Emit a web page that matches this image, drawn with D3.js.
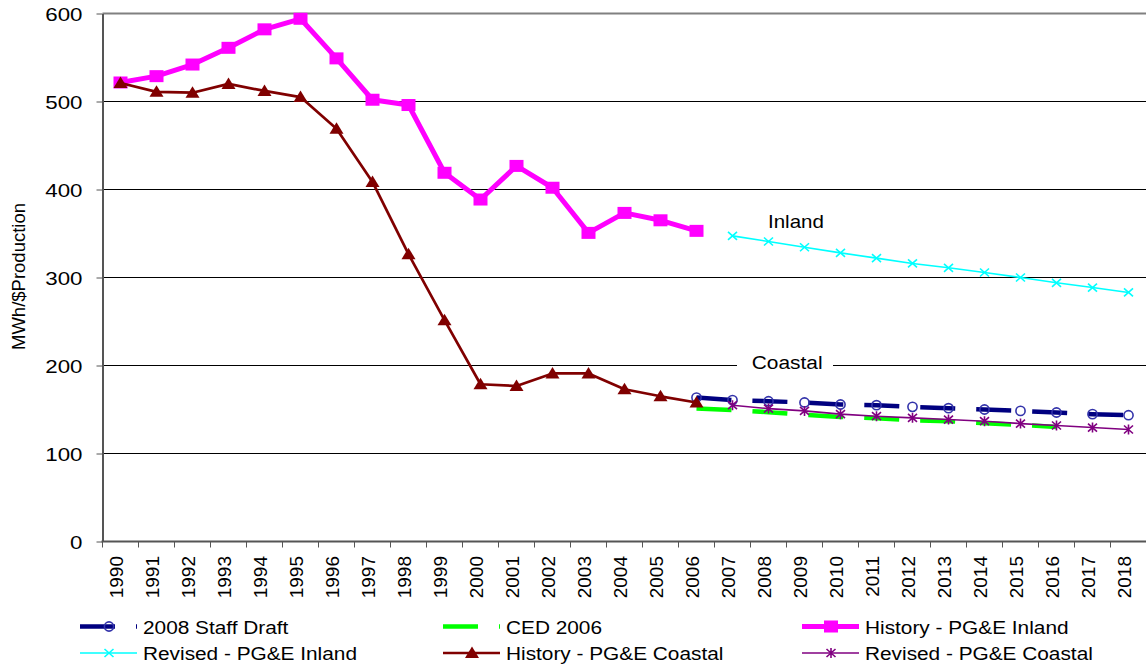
<!DOCTYPE html>
<html><head><meta charset="utf-8">
<script src="https://cdn.jsdelivr.net/npm/d3@7"></script>
<style>
body{margin:0;background:#fff}
svg{display:block}
text{font-family:"Liberation Sans",Arial,sans-serif;fill:#000}
</style>
</head><body>
<svg id="chart" width="1146" height="666"></svg>
<script>
// ---------- data ----------
const years = ["1990","1991","1992","1993","1994","1995","1996","1997","1998","1999","2000","2001","2002","2003","2004","2005","2006","2007","2008","2009","2010","2011","2012","2013","2014","2015","2016","2017","2018"];
const historyYears = ["1990","1991","1992","1993","1994","1995","1996","1997","1998","1999","2000","2001","2002","2003","2004","2005","2006"];
const staffYears = ["2006","2007","2008","2009","2010","2011","2012","2013","2014","2015","2016","2017","2018"];
const cedYears = ["2006","2007","2008","2009","2010","2011","2012","2013","2014","2015","2016"];
const revisedYears = ["2007","2008","2009","2010","2011","2012","2013","2014","2015","2016","2017","2018"];

const historyInland = [521.6,528.8,542,561,582,594,549,502,496,419,388.6,426.8,402,350.7,373.4,365,353];
const historyCoastal = [521,511,510,520,512,505,469,408.6,326.5,251.5,178.7,176.7,191,191,173,165,158];
const staffDraft = [163.6,160.6,159.4,158,155.7,154.9,153,151.5,150,148.4,146.6,144.7,143.5];
const ced2006 = [151,149.4,147,144,141.6,140,137.8,136.7,134.4,132.5,130.2];
const revisedInland = [347.3,340.9,334.4,328,322,316,311,305.7,300,294,288.6,283];
const revisedCoastal = [154.9,151,148.4,144.7,142.4,140.5,138.6,136.7,134,131.8,129.5,127.3];

const yTicks = [0,100,200,300,400,500,600];
const yTitle = "MWh/$Production";
const seriesNames = ["2008 Staff Draft","CED 2006","History - PG&E Inland","Revised - PG&E Inland","History - PG&E Coastal","Revised - PG&E Coastal"];

// ---------- setup ----------
const svg = d3.select("#chart");
const pLeft = 102.5, pRight = 1146.5, pTop = 13.5, pBottom = 541.5;
const x = d3.scaleBand().domain(years).range([pLeft, pRight]);
const cx = d => x(d) + x.bandwidth() / 2;
const y = d3.scaleLinear().domain([0, 600]).range([pBottom, pTop]);

function stretchedText(parent, px, py, str, size, sx, anchor, rot) {
  const g = parent.append("g").attr("transform", `translate(${px},${py}) scale(${sx},1)` + (rot ? ` rotate(${rot})` : ""));
  return g.append("text").attr("text-anchor", anchor || "start").style("font-size", size + "px").text(str);
}

// gridlines
svg.append("g").selectAll("line").data(yTicks.filter(t => t > 0 && t < 600)).join("line")
  .attr("x1", pLeft).attr("x2", 1146).attr("y1", d => y(d)).attr("y2", d => y(d))
  .attr("stroke", "#000").attr("stroke-width", 1);

// plot border (top)
svg.append("line").attr("x1", pLeft).attr("x2", 1146).attr("y1", y(600)).attr("y2", y(600))
  .attr("stroke", "#808080").attr("stroke-width", 2);

// Coastal label background
svg.append("rect").attr("x", 737).attr("y", y(200) - 9).attr("width", 96).attr("height", 18).attr("fill", "#fff");

// y axis
const yAxis = svg.append("g").attr("transform", `translate(${pLeft},0)`)
  .call(d3.axisLeft(y).tickValues(yTicks).tickSize(6).tickSizeOuter(0));
yAxis.select(".domain").attr("stroke", "#555").attr("stroke-width", 2);
yAxis.selectAll(".tick line").attr("stroke", "#555");
yAxis.selectAll(".tick text").attr("x", -20 / 1.2).attr("dy", "0.36em")
  .attr("transform", "scale(1.2,1)").style("font-size", "18.6px")
  .style("font-family", '"Liberation Sans",Arial,sans-serif').attr("fill", "#000");

// x axis
const xAxis = svg.append("g").attr("transform", `translate(0,${pBottom})`)
  .call(d3.axisBottom(x).tickSize(0));
xAxis.select(".domain").remove();
xAxis.selectAll(".tick text")
  .attr("transform", "scale(0.92,1) rotate(-90)")
  .attr("x", -14.5).attr("y", 0).attr("dy", "0.17em")
  .attr("text-anchor", "end").style("font-size", "19px")
  .style("font-family", '"Liberation Sans",Arial,sans-serif').attr("fill", "#000");
svg.append("line").attr("x1", pLeft - 1).attr("x2", 1146).attr("y1", pBottom).attr("y2", pBottom)
  .attr("stroke", "#555").attr("stroke-width", 2);
svg.append("g").selectAll("line").data(years).join("line")
  .attr("x1", d => x(d)).attr("x2", d => x(d)).attr("y1", pBottom).attr("y2", pBottom + 6)
  .attr("stroke", "#555").attr("stroke-width", 1);

// y title
stretchedText(svg, 25, 276.5, yTitle, 18.5, 1.0, "middle", -90);

// ---------- series ----------
const line = d3.line().x(d => cx(d.year)).y(d => y(d.value));
const zip = (ys, vs) => ys.map((yr, i) => ({year: yr, value: vs[i]}));

const markers = {
  circle: g => g.append("circle").attr("r", 4.6).attr("fill", "none").attr("stroke", "#3333AA").attr("stroke-width", 1.6),
  square: g => g.append("rect").attr("x", -7).attr("y", -6).attr("width", 14).attr("height", 12).attr("fill", "#FF00FF"),
  triangle: g => g.append("path").attr("d", "M0,-6.5L7,5L-7,5Z").attr("fill", "#800000"),
  xmark: g => g.append("path").attr("d", "M-4.5,-4L4.5,4M-4.5,4L4.5,-4").attr("stroke", "#00FFFF").attr("stroke-width", 1.6).attr("fill", "none"),
  star: g => g.append("path").attr("d", "M-4.5,-4L4.5,4M-4.5,4L4.5,-4M0,-5L0,5").attr("stroke", "#800080").attr("stroke-width", 1.6).attr("fill", "none")
};

const series = [
  {name: seriesNames[0], data: zip(staffYears, staffDraft), color: "#000080", width: 4.5, dash: "35,21", marker: "circle"},
  {name: seriesNames[1], data: zip(cedYears, ced2006), color: "#00FF00", width: 4.5, dash: "35,21", marker: null},
  {name: seriesNames[2], data: zip(historyYears, historyInland), color: "#FF00FF", width: 5, dash: null, marker: "square"},
  {name: seriesNames[3], data: zip(revisedYears, revisedInland), color: "#00FFFF", width: 1.6, dash: null, marker: "xmark"},
  {name: seriesNames[4], data: zip(historyYears, historyCoastal), color: "#800000", width: 2.7, dash: null, marker: "triangle"},
  {name: seriesNames[5], data: zip(revisedYears, revisedCoastal), color: "#800080", width: 1.6, dash: null, marker: "star"}
];

series.forEach(s => {
  svg.append("path").datum(s.data).attr("d", line).attr("fill", "none")
    .attr("stroke", s.color).attr("stroke-width", s.width)
    .attr("stroke-linejoin", "round").attr("stroke-dasharray", s.dash);
  if (s.marker) {
    s.data.forEach(d => {
      const g = svg.append("g").attr("transform", `translate(${cx(d.year)},${y(d.value)})`);
      markers[s.marker](g);
    });
  }
});

// annotations
stretchedText(svg, 768, 228, "Inland", 18, 1.14, "start");
stretchedText(svg, 751.7, 369.3, "Coastal", 19, 1.1, "start");

// ---------- legend ----------
const legCols = [80, 443, 802];
const legRows = [626.5, 653];
const legTextBase = [634, 659.5];
series.forEach((s, i) => {
  const col = i % 3, row = Math.floor(i / 3);
  const x0 = legCols[col], ly = legRows[row];
  svg.append("line").attr("x1", x0).attr("x2", x0 + 57).attr("y1", ly).attr("y2", ly)
    .attr("stroke", s.color).attr("stroke-width", s.width).attr("stroke-dasharray", s.dash);
  if (s.marker) {
    const g = svg.append("g").attr("transform", `translate(${x0 + 29},${ly})`);
    markers[s.marker](g);
  }
  stretchedText(svg, x0 + 63, legTextBase[row], s.name, 17.5, 1.19, "start");
});
</script>
</body></html>
